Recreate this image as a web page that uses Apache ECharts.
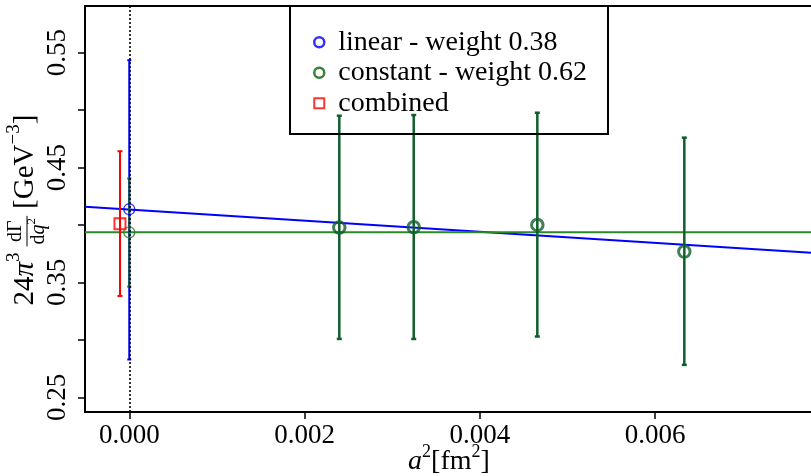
<!DOCTYPE html>
<html>
<head>
<meta charset="utf-8">
<script src="https://cdn.jsdelivr.net/npm/echarts@6/dist/echarts.min.js"></script>
<style>
  html, body { margin: 0; padding: 0; background: #fff; }
  #chart { width: 811px; height: 476px; }
</style>
</head>
<body>
<div id="chart"></div>
<script>
// Lattice data points: a^2 [fm^2], value, lower and upper ends of the error bar
const latticeA2 = [0.002396, 0.003245, 0.004655, 0.006332];
const latticeVal = [0.3977, 0.3981, 0.4000, 0.3768];
const latticeLo = [0.3008, 0.3008, 0.3029, 0.2782];
const latticeHi = [0.4951, 0.4957, 0.4977, 0.4760];

// Continuum extrapolations at a^2 = 0
const linearX = [0.0];
const linearVal = [0.4137];
const linearLo = [0.2829];
const linearHi = [0.5434];

const constantX = [0.0];
const constantVal = [0.3936];
const constantLo = [0.3463];
const constantHi = [0.4404];

const combinedX = [-0.000106];
const combinedVal = [0.4011];
const combinedLo = [0.3382];
const combinedHi = [0.4642];

// Fit lines (end points across the visible a^2 range)
const linearFitX = [-0.000505, 0.0078];
const linearFitY = [0.4159, 0.3758];
const constantFitX = [-0.000505, 0.0078];
const constantFitY = [0.3936, 0.3936];

// Axis ticks
const xTicks = [0.000, 0.002, 0.004, 0.006];
const yTicks = [0.25, 0.30, 0.35, 0.40, 0.45, 0.50, 0.55];
const yTickLabels = [0.25, 0.35, 0.45, 0.55];

const legendNames = ['linear - weight 0.38', 'constant - weight 0.62', 'combined'];

const FONT = '"Liberation Serif", "Times New Roman", serif';
const BLUE = '#0000ff';
const GREEN_FIT = '#2a8a2a';
const DARK_GREEN = '#0f5f2a';
const RED = '#ff0000';

const zip = (...cols) => cols[0].map((_, i) => cols.map(c => c[i]));

function errorBars(color, width, cap) {
  return function (params, api) {
    const x = api.value(0);
    const lo = api.coord([x, api.value(1)]);
    const hi = api.coord([x, api.value(2)]);
    const st = { stroke: color, lineWidth: width };
    return {
      type: 'group',
      children: [
        { type: 'line', shape: { x1: lo[0], y1: lo[1], x2: hi[0], y2: hi[1] }, style: st },
        { type: 'line', shape: { x1: lo[0] - cap, y1: lo[1], x2: lo[0] + cap, y2: lo[1] }, style: st },
        { type: 'line', shape: { x1: hi[0] - cap, y1: hi[1], x2: hi[0] + cap, y2: hi[1] }, style: st }
      ]
    };
  };
}

// Vertical axis title with a stacked fraction, laid out piece by piece
function buildYTitle() {
  const ctx = document.createElement('canvas').getContext('2d');
  const measure = (font, t) => { ctx.font = font; return ctx.measureText(t).width; };
  const mainF = `29px ${FONT}`;
  const mainI = `italic 29px ${FONT}`;
  const supF = `19px ${FONT}`;
  const fracF = `20px ${FONT}`;
  const fracI = `italic 20px ${FONT}`;
  const smallF = `13px ${FONT}`;

  const parts = [];
  let pos = 0;
  const put = (t, font, dy) => {
    parts.push({ t, font, x: pos, dy });
    pos += measure(font, t);
  };
  put('24', mainF, 0);
  put('π', mainI, 0);
  put('3', supF, -11);
  pos += 6;
  // fraction dΓ / dq²
  const numW = measure(fracF, 'dΓ');
  const denW = measure(fracF, 'd') + measure(fracI, 'q') + measure(smallF, '2');
  const fw = Math.max(numW, denW) + 4;
  const f0 = pos;
  parts.push({ t: 'dΓ', font: fracF, x: f0 + (fw - numW) / 2, dy: -9 });
  let dx = f0 + (fw - denW) / 2;
  parts.push({ t: 'd', font: fracF, x: dx, dy: 14 }); dx += measure(fracF, 'd');
  parts.push({ t: 'q', font: fracI, x: dx, dy: 14 }); dx += measure(fracI, 'q');
  parts.push({ t: '2', font: smallF, x: dx, dy: 7 });
  const bar = { x1: f0, x2: f0 + fw };
  pos += fw + 7;
  put('[GeV', mainF, 0);
  put('−3', supF, -11);
  put(']', mainF, 0);

  const off = -pos / 2;
  const children = parts.map(p => ({
    type: 'text',
    x: p.x + off,
    y: p.dy,
    style: {
      text: p.t, font: p.font, fill: '#000',
      textAlign: 'left', textVerticalAlign: 'middle',
      align: 'left', verticalAlign: 'middle'
    }
  }));
  children.push({
    type: 'line',
    shape: { x1: bar.x1 + off, y1: 2, x2: bar.x2 + off, y2: 2 },
    style: { stroke: '#000', lineWidth: 1 }
  });
  return { type: 'group', x: 25, y: 210, rotation: Math.PI / 2, children };
}

const chart = echarts.init(document.getElementById('chart'), null, { renderer: 'canvas' });

const hollow = (color, bw) => ({ color: 'rgba(0,0,0,0)', borderColor: color, borderWidth: bw });

const option = {
  animation: false,
  backgroundColor: '#fff',
  grid: {
    left: 85, top: 6, right: -2, bottom: 64,
    outerBoundsMode: 'none',
    containLabel: false,
    show: true, borderColor: '#000', borderWidth: 2, backgroundColor: 'transparent'
  },
  xAxis: {
    type: 'value',
    min: -0.000505, max: 0.0078,
    axisLine: { show: true, onZero: false, lineStyle: { color: '#000', width: 2 } },
    splitLine: { show: false },
    axisTick: { show: true, inside: false, customValues: xTicks, length: 7, lineStyle: { color: '#000', width: 1.5 } },
    axisLabel: {
      customValues: xTicks,
      formatter: v => v.toFixed(3),
      fontFamily: FONT, fontSize: 27, color: '#000', margin: 10
    },
    name: '{i|a}{s|2}{n|[fm}{s|2}{n|]}',
    nameLocation: 'middle',
    nameMoveOverlap: false,
    nameGap: 31,
    nameTextStyle: {
      fontFamily: FONT, fontSize: 27, color: '#000',
      rich: {
        i: { fontFamily: FONT, fontSize: 28, fontStyle: 'italic', lineHeight: 37, color: '#000' },
        n: { fontFamily: FONT, fontSize: 28, lineHeight: 37, color: '#000' },
        s: { fontFamily: FONT, fontSize: 18, lineHeight: 18, verticalAlign: 'top', color: '#000' }
      }
    }
  },
  yAxis: {
    type: 'value',
    min: 0.2372, max: 0.5906,
    axisLine: { show: true, onZero: false, lineStyle: { color: '#000', width: 2 } },
    splitLine: { show: false },
    axisTick: { show: true, inside: false, customValues: yTicks, length: 7, lineStyle: { color: '#000', width: 1.5 } },
    axisLabel: {
      customValues: yTickLabels,
      formatter: v => v.toFixed(2),
      rotate: 90,
      fontFamily: FONT, fontSize: 27, color: '#000', margin: 14
    }
  },
  legend: {
    data: [
      { name: legendNames[0], icon: 'circle', itemStyle: hollow(BLUE, 2.5) },
      { name: legendNames[1], icon: 'circle', itemStyle: hollow('#006400', 2.5) },
      { name: legendNames[2], icon: 'rect', itemStyle: hollow(RED, 2) }
    ],
    orient: 'vertical',
    left: 308, top: 22,
    itemWidth: 10, itemHeight: 10, itemGap: 0,
    selectedMode: false,
    textStyle: { fontFamily: FONT, fontSize: 28, lineHeight: 30.5, color: '#000', padding: [0, 0, 0, 9] }
  },
  graphic: [
    {
      type: 'rect',
      shape: { x: 290, y: 6, width: 318, height: 128 },
      style: { fill: 'none', stroke: '#000', lineWidth: 2 },
      z: 100
    },
    buildYTitle()
  ],
  series: [
    {
      name: 'linear fit', type: 'line', data: zip(linearFitX, linearFitY),
      showSymbol: false, lineStyle: { color: BLUE, width: 2 }, z: 1, silent: true
    },
    {
      name: 'constant fit', type: 'line', data: zip(constantFitX, constantFitY),
      showSymbol: false, lineStyle: { color: GREEN_FIT, width: 2 }, z: 1, silent: true
    },
    {
      name: 'combined error', type: 'custom', renderItem: errorBars(RED, 2, 2.5),
      data: zip(combinedX, combinedLo, combinedHi), encode: { x: 0, y: [1, 2] }, z: 2, silent: true
    },
    {
      name: 'linear error', type: 'custom', renderItem: errorBars(BLUE, 2, 2),
      data: zip(linearX, linearLo, linearHi), encode: { x: 0, y: [1, 2] }, z: 2, silent: true
    },
    {
      name: 'constant error', type: 'custom', renderItem: errorBars(DARK_GREEN, 2, 2),
      data: zip(constantX, constantLo, constantHi), encode: { x: 0, y: [1, 2] }, z: 3, silent: true,
      markLine: {
        silent: true, symbol: 'none', label: { show: false },
        lineStyle: { color: '#000', width: 1.6, type: [2, 2] },
        data: [{ xAxis: 0 }]
      }
    },
    {
      name: 'lattice error', type: 'custom', renderItem: errorBars(DARK_GREEN, 2.5, 2.5),
      data: zip(latticeA2, latticeLo, latticeHi), encode: { x: 0, y: [1, 2] }, z: 3, silent: true
    },
    {
      name: legendNames[0], type: 'scatter', data: zip(linearX, linearVal),
      symbol: 'circle', symbolSize: 11, itemStyle: hollow(BLUE, 1.3), z: 5
    },
    {
      name: legendNames[1], type: 'scatter', data: zip(constantX, constantVal),
      symbol: 'circle', symbolSize: 11, itemStyle: hollow('#2a7a2a', 1.3), z: 5
    },
    {
      name: 'lattice', type: 'scatter', data: zip(latticeA2, latticeVal),
      symbol: 'circle', symbolSize: 11.5, itemStyle: hollow(DARK_GREEN, 3), z: 5
    },
    {
      name: legendNames[2], type: 'scatter', data: zip(combinedX, combinedVal),
      symbol: 'rect', symbolSize: 11, itemStyle: hollow(RED, 2), z: 5
    }
  ]
};

chart.setOption(option);
</script>
</body>
</html>
